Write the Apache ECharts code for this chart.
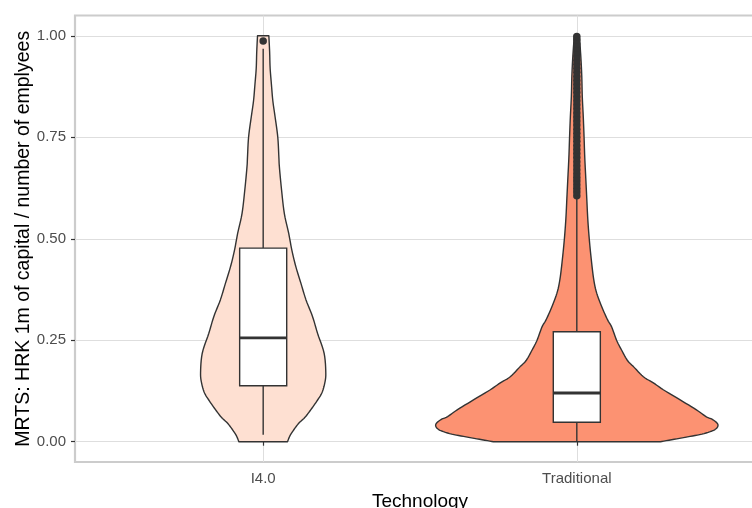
<!DOCTYPE html>
<html><head><meta charset="utf-8">
<script src="https://cdn.jsdelivr.net/npm/echarts@6/dist/echarts.min.js"></script>
<style>html,body{margin:0;padding:0;background:#fff}#c{width:752px;height:508px}</style>
</head><body><div id="c"></div>
<script>
// ---- data ----
const categories = ['I4.0', 'Traditional'];
const categoryPos = [1, 2];
const yTicks = [0, 0.25, 0.5, 0.75, 1];
const xTitle = 'Technology';
const yTitle = 'MRTS: HRK 1m of capital / number of emplyees';

// violin outlines: value levels and estimated (relative) density at each level
const i40Levels  = [1.00, 0.96, 0.92, 0.88, 0.84, 0.80, 0.75, 0.70, 0.677, 0.62, 0.562, 0.513, 0.47, 0.43, 0.39, 0.35, 0.308, 0.267, 0.218, 0.17, 0.145, 0.12, 0.10, 0.079, 0.06, 0.046, 0.03, 0.015, 0.00];
const i40Density = [5.7, 6.5, 7.0, 8.3, 9.7, 12.0, 14.7, 15.8, 16.3, 18.5, 21.3, 25.7, 29, 33, 38, 43, 49.7, 54.7, 61.3, 63, 62, 59, 54, 48, 42, 36, 31, 27, 24.5];
const tradLevels  = [1.00, 0.95, 0.90, 0.85, 0.80, 0.75, 0.70, 0.65, 0.60, 0.55, 0.50, 0.45, 0.40, 0.366, 0.33, 0.30, 0.283, 0.25, 0.226, 0.20, 0.185, 0.16, 0.145, 0.128, 0.103, 0.079, 0.062, 0.054, 0.042, 0.03, 0.02, 0.013, 0.006, 0.00];
const tradDensity = [2.5, 4, 5, 5.5, 6.5, 7.3, 8, 9, 10, 11, 12.5, 14.5, 17, 20, 25.5, 31, 35, 40, 45, 51, 57, 67, 77, 87, 104, 120, 130, 137, 142, 139, 128, 114, 98, 84];

// box plot statistics per category
const boxQ1       = [0.138, 0.048];
const boxMedian   = [0.256, 0.120];
const boxQ3       = [0.477, 0.271];
const whiskerLow  = [0.017, 0.000];
const whiskerHigh = [0.968, 0.605];
const i40Outliers  = [0.987];
const tradOutliers = [0.606, 0.615, 0.624, 0.633, 0.642, 0.651, 0.66, 0.67, 0.68, 0.69, 0.70, 0.71, 0.72, 0.73, 0.74, 0.75, 0.76, 0.77, 0.78, 0.79, 0.80, 0.81, 0.82, 0.83, 0.84, 0.85, 0.86, 0.87, 0.88, 0.89, 0.90, 0.91, 0.92, 0.93, 0.94, 0.95, 0.96, 0.97, 0.98, 0.99, 0.998];

// ---- styling ----
const FONT = 'Liberation Sans, Arial, sans-serif';
const fills = ['#FEE0D2', '#FC9272'];
const outline = '#333333';
const violinMaxHalf = 0.45;
const boxHalf = 0.075;

const profiles = [
  {levels: i40Levels, dens: i40Density},
  {levels: tradLevels, dens: tradDensity}
];
const maxDens = Math.max(...i40Density, ...tradDensity);

// Catmull-Rom subdivision of an open polyline (screen coords), for a smooth outline
function smoothPath(pts, steps) {
  const out = [];
  for (let i = 0; i < pts.length - 1; i++) {
    const p0 = pts[Math.max(i - 1, 0)], p1 = pts[i], p2 = pts[i + 1], p3 = pts[Math.min(i + 2, pts.length - 1)];
    for (let s = 0; s < steps; s++) {
      const t = s / steps, t2 = t * t, t3 = t2 * t;
      const f = (a, b, c, d) => 0.5 * ((2 * b) + (-a + c) * t + (2 * a - 5 * b + 4 * c - d) * t2 + (-a + 3 * b - 3 * c + d) * t3);
      out.push([f(p0[0], p1[0], p2[0], p3[0]), f(p0[1], p1[1], p2[1], p3[1])]);
    }
  }
  out.push(pts[pts.length - 1]);
  return out;
}

const chart = echarts.init(document.getElementById('c'), null, {renderer: 'canvas'});

function violinItem(params, api) {
  const i = params.dataIndex;
  const cx = categoryPos[i];
  const p = profiles[i];
  const right = [], left = [];
  for (let k = p.levels.length - 1; k >= 0; k--) {
    right.push(api.coord([cx + p.dens[k] / maxDens * violinMaxHalf, p.levels[k]]));
  }
  for (let k = 0; k < p.levels.length; k++) {
    left.push(api.coord([cx - p.dens[k] / maxDens * violinMaxHalf, p.levels[k]]));
  }
  const pts = smoothPath(right, 6).concat(smoothPath(left, 6));
  return {
    type: 'polygon',
    shape: {points: pts},
    style: {fill: fills[i], stroke: outline, lineWidth: 1.4, lineJoin: 'round'}
  };
}

function boxItem(params, api) {
  const i = params.dataIndex;
  const cx = categoryPos[i];
  const tl = api.coord([cx - boxHalf, boxQ3[i]]);
  const br = api.coord([cx + boxHalf, boxQ1[i]]);
  const wl = api.coord([cx, whiskerLow[i]]);
  const wh = api.coord([cx, whiskerHigh[i]]);
  const m1 = api.coord([cx - boxHalf, boxMedian[i]]);
  const m2 = api.coord([cx + boxHalf, boxMedian[i]]);
  return {
    type: 'group',
    children: [
      {type: 'line', shape: {x1: wh[0], y1: wh[1], x2: wh[0], y2: tl[1]}, style: {stroke: outline, lineWidth: 1.4}},
      {type: 'line', shape: {x1: wl[0], y1: br[1], x2: wl[0], y2: wl[1]}, style: {stroke: outline, lineWidth: 1.4}},
      {type: 'rect', shape: {x: tl[0], y: tl[1], width: br[0] - tl[0], height: br[1] - tl[1]}, style: {fill: '#ffffff', stroke: outline, lineWidth: 1.4}},
      {type: 'line', shape: {x1: m1[0], y1: m1[1], x2: m2[0], y2: m2[1]}, style: {stroke: outline, lineWidth: 2.8}}
    ]
  };
}

const outlierData = [];
i40Outliers.forEach(v => outlierData.push([categoryPos[0], v]));
tradOutliers.forEach(v => outlierData.push([categoryPos[1], v]));

chart.setOption({
  animation: false,
  backgroundColor: '#ffffff',
  grid: {left: 75, top: 15.5, width: 690, height: 446.5, show: true, borderColor: '#cccccc', borderWidth: 2.2,
    containLabel: false, outerBoundsMode: 'none'},
  xAxis: {
    type: 'value', min: 0.4, max: 2.6,
    name: xTitle, nameLocation: 'middle', nameGap: 30, nameMoveOverlap: false,
    nameTextStyle: {fontFamily: FONT, fontSize: 19, color: '#000'},
    axisLine: {show: false},
    axisTick: {show: true, length: 4, customValues: categoryPos, lineStyle: {color: '#333', width: 1.2}},
    axisLabel: {show: true, customValues: categoryPos, margin: 9, fontFamily: FONT, fontSize: 15, color: '#4D4D4D',
      formatter: v => categories[categoryPos.indexOf(Math.round(v))] || ''},
    splitLine: {show: true, lineStyle: {color: '#DEDEDE', width: 1}}
  },
  yAxis: {
    type: 'value', min: -0.05, max: 1.05,
    name: yTitle, nameLocation: 'middle', nameGap: 41, nameMoveOverlap: false,
    nameTextStyle: {fontFamily: FONT, fontSize: 19.5, color: '#000'},
    axisLine: {show: false},
    axisTick: {show: true, length: 4, customValues: yTicks, lineStyle: {color: '#333', width: 1.2}},
    axisLabel: {show: true, customValues: yTicks, margin: 9, fontFamily: FONT, fontSize: 15, color: '#4D4D4D',
      formatter: v => v.toFixed(2)},
    splitLine: {show: true, lineStyle: {color: '#DEDEDE', width: 1}}
  },
  series: [
    {type: 'custom', renderItem: violinItem, data: [[0], [1]], z: 2, silent: true},
    {type: 'custom', renderItem: boxItem, data: [[0], [1]], z: 3, silent: true},
    {type: 'scatter', data: outlierData, symbol: 'circle', symbolSize: 7.5, itemStyle: {color: '#333333', opacity: 1}, z: 4, silent: true}
  ]
});
</script>
</body></html>
